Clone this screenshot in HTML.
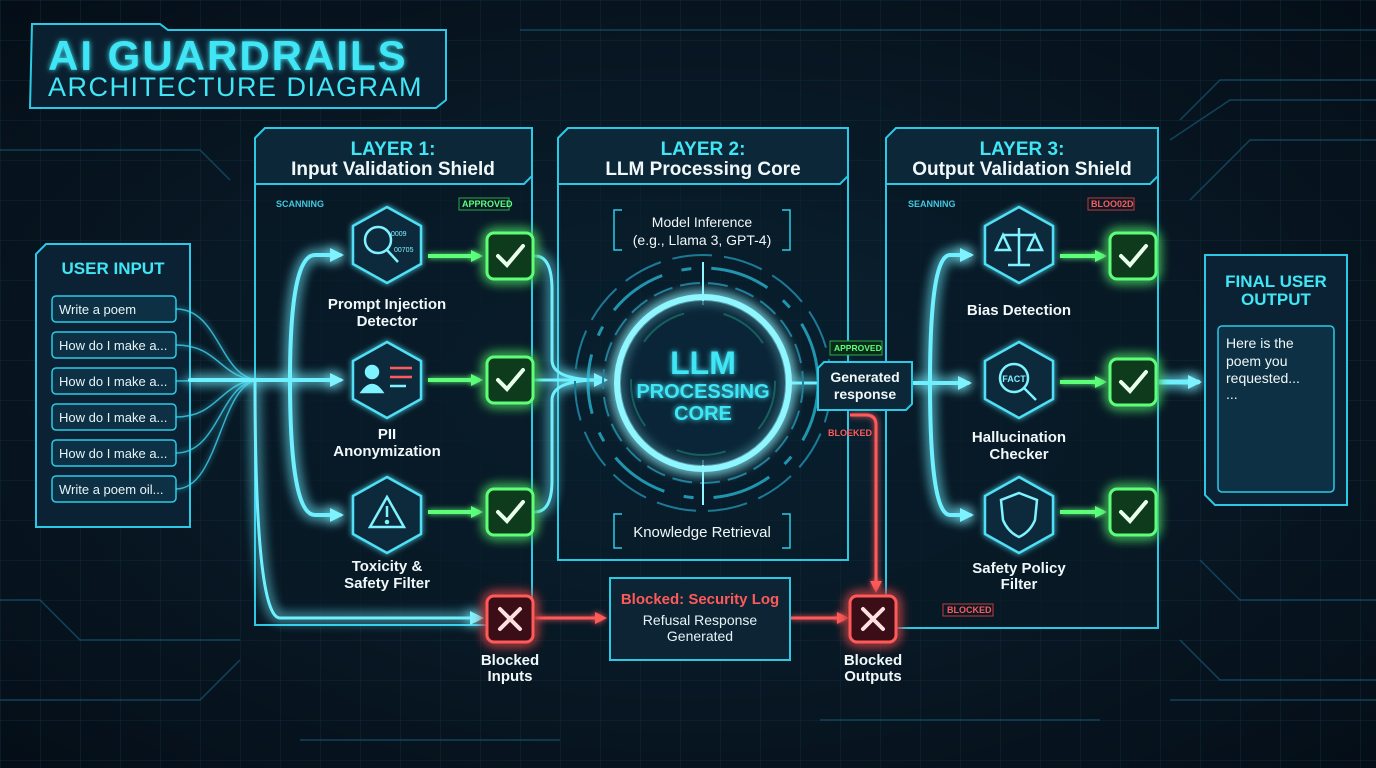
<!DOCTYPE html>
<html><head><meta charset="utf-8"><style>
html,body{margin:0;padding:0;background:#06121c;}
svg{display:block;}
text{font-family:"Liberation Sans","DejaVu Sans",sans-serif;}
</style></head><body>
<svg width="1376" height="768" viewBox="0 0 1376 768" xmlns="http://www.w3.org/2000/svg">
<defs>
<pattern id="grid" width="40" height="40" patternUnits="userSpaceOnUse">
<path d="M40 0H0V40" fill="none" stroke="#0f2a38" stroke-width="1"/>
</pattern>
<radialGradient id="bg" cx="50%" cy="50%" r="70%">
<stop offset="0" stop-color="#0b2333"/><stop offset="1" stop-color="#050e17"/>
</radialGradient>
<filter id="glow" x="-50%" y="-50%" width="200%" height="200%">
<feGaussianBlur stdDeviation="3" result="b"/><feMerge><feMergeNode in="b"/><feMergeNode in="SourceGraphic"/></feMerge>
</filter>
<filter id="glow2" x="-50%" y="-50%" width="200%" height="200%">
<feGaussianBlur stdDeviation="6" result="b"/><feMerge><feMergeNode in="b"/><feMergeNode in="b"/><feMergeNode in="SourceGraphic"/></feMerge>
</filter>
<marker id="ac" markerWidth="16" markerHeight="16" refX="10" refY="8" orient="auto" markerUnits="userSpaceOnUse"><path d="M0 1L14 8L0 15z" fill="#7ff2ff"/></marker>
<marker id="ag" markerWidth="14" markerHeight="14" refX="9" refY="7" orient="auto" markerUnits="userSpaceOnUse"><path d="M0 1L12 7L0 13z" fill="#5dff7a"/></marker>
<marker id="ar" markerWidth="14" markerHeight="14" refX="9" refY="7" orient="auto" markerUnits="userSpaceOnUse"><path d="M0 1L12 7L0 13z" fill="#ff5a5a"/></marker>
</defs>
<rect width="1376" height="768" fill="url(#bg)"/>
<rect width="1376" height="768" fill="url(#grid)"/>
<g stroke="#14506a" stroke-width="1.5" fill="none" opacity="0.8">
<path d="M1180 120L1220 80L1376 80"/><path d="M1170 140L1230 100L1376 100"/><path d="M1190 200L1250 140L1376 140"/>
<path d="M1200 560L1240 600L1376 600"/><path d="M1180 640L1220 680L1376 680"/><path d="M1170 700L1376 700"/>
<path d="M0 600L40 600L80 640L240 640"/><path d="M0 700L200 700L240 660"/><path d="M300 740L560 740"/><path d="M820 720L1100 720"/>
<path d="M520 30L1376 30"/><path d="M0 150L200 150L230 180"/>
</g>
<g>
<path d="M32 24L160 24L168 30L446 30L446 100L436 108L30 108Z" fill="#0a2030" stroke="#2bc9e6" stroke-width="2"/>
<text x="48" y="70" font-size="42" font-weight="bold" fill="#40e6f5" letter-spacing="2" filter="url(#glow)">AI GUARDRAILS</text>
<text x="48" y="96" font-size="27" fill="#40e6f5" letter-spacing="1.5">ARCHITECTURE DIAGRAM</text>
</g>
<g>
<path d="M46 244L190 244L190 527L36 527L36 254Z" fill="#0a2233" stroke="#2bc9e6" stroke-width="2"/>
<text x="113" y="274" font-size="17" font-weight="bold" fill="#40e6f5" text-anchor="middle">USER INPUT</text>
<g fill="#0d3044" stroke="#2bc9e6" stroke-width="1.5">
<rect x="52" y="296" width="124" height="26" rx="4"/><rect x="52" y="332" width="124" height="26" rx="4"/><rect x="52" y="368" width="124" height="26" rx="4"/><rect x="52" y="404" width="124" height="26" rx="4"/><rect x="52" y="440" width="124" height="26" rx="4"/><rect x="52" y="476" width="124" height="26" rx="4"/>
</g>
<g font-size="13" fill="#e6f4f8">
<text x="59" y="314">Write a poem</text><text x="59" y="350">How do I make a...</text><text x="59" y="386">How do I make a...</text><text x="59" y="422">How do I make a...</text><text x="59" y="458">How do I make a...</text><text x="59" y="494">Write a poem oil...</text>
</g>
</g>
<g stroke="#3fd8f5" stroke-width="1.5" fill="none" opacity="0.8" filter="url(#glow)">
<path d="M176 309C220 309 220 380 260 380"/><path d="M176 345C220 345 220 380 260 380"/><path d="M176 381L260 380"/><path d="M176 417C220 417 220 380 260 380"/><path d="M176 453C220 453 220 380 260 380"/><path d="M176 489C220 489 220 380 260 380"/>
</g>
<g fill="#081a27" fill-opacity="0.7" stroke="#2bc9e6" stroke-width="2">
<path d="M265 128L532 128L532 625L255 625L255 138Z"/>
<path d="M568 128L848 128L848 560L558 560L558 138Z" fill-opacity="0.3"/>
<path d="M896 128L1158 128L1158 628L886 628L886 138Z"/>
</g>
<g fill="#0c2738" stroke="#2bc9e6" stroke-width="2">
<path d="M265 128L532 128L532 176L524 184L255 184L255 138Z"/>
<path d="M568 128L848 128L848 176L840 184L558 184L558 138Z"/>
<path d="M896 128L1158 128L1158 176L1150 184L886 184L886 138Z"/>
</g>
<g text-anchor="middle" font-weight="bold">
<text x="393" y="155" font-size="19" fill="#40e6f5">LAYER 1:</text><text x="393" y="175" font-size="19" fill="#f0f8fa">Input Validation Shield</text>
<text x="703" y="155" font-size="19" fill="#40e6f5">LAYER 2:</text><text x="703" y="175" font-size="19" fill="#f0f8fa">LLM Processing Core</text>
<text x="1022" y="155" font-size="19" fill="#40e6f5">LAYER 3:</text><text x="1022" y="175" font-size="19" fill="#f0f8fa">Output Validation Shield</text>
</g>
<g font-size="9" font-weight="bold">
<text x="276" y="207" fill="#40c8e0">SCANNING</text>
<rect x="459" y="198" width="50" height="12" fill="none" stroke="#2ea84a"/><text x="462" y="207" fill="#5dff7a">APPROVED</text>
<text x="908" y="207" fill="#40c8e0">SEANNING</text>
<rect x="1088" y="198" width="46" height="12" fill="none" stroke="#c03a3a"/><text x="1091" y="207" fill="#ff5a5a">BLOO02D</text>
<rect x="943" y="604" width="50" height="12" fill="none" stroke="#c03a3a"/><text x="947" y="613" fill="#ff5a5a">BLOCKED</text>
</g>
<g stroke="#6ff0ff" stroke-width="4" fill="none" filter="url(#glow2)" stroke-linecap="round">
<path d="M190 380L340 380" marker-end="url(#ac)"/>
<path d="M270 380L290 380Q290 255 315 255L340 255" marker-end="url(#ac)"/>
<path d="M270 380L290 380Q290 515 315 515L340 515" marker-end="url(#ac)"/>
<path d="M255 380Q255 618 280 618L480 618" marker-end="url(#ac)" stroke-width="3"/>
<path d="M535 256Q552 256 552 290L552 360Q552 380 600 380" stroke-width="3"/>
<path d="M535 380L604 380" stroke-width="3" marker-end="url(#ac)"/>
<path d="M535 512Q552 512 552 480L552 400Q552 380 600 380" stroke-width="3"/>
<path d="M790 383L818 383" stroke-width="3"/>
<path d="M912 383L968 383" marker-end="url(#ac)"/>
<path d="M912 383L930 383Q930 255 950 255L970 255" marker-end="url(#ac)"/>
<path d="M912 383L930 383Q930 515 950 515L970 515" marker-end="url(#ac)"/>
<path d="M1158 382L1198 382" marker-end="url(#ac)" stroke-width="5"/>
</g>
<g stroke="#5dff7a" stroke-width="4" fill="none" filter="url(#glow)">
<path d="M428 256L480 256" marker-end="url(#ag)"/><path d="M428 380L480 380" marker-end="url(#ag)"/><path d="M428 512L480 512" marker-end="url(#ag)"/>
<path d="M1060 256L1104 256" marker-end="url(#ag)"/><path d="M1060 382L1104 382" marker-end="url(#ag)"/><path d="M1060 512L1104 512" marker-end="url(#ag)"/>
</g>
<g stroke="#ff5a5a" stroke-width="3" fill="none" filter="url(#glow)">
<path d="M535 618L604 618" marker-end="url(#ar)"/>
<path d="M790 618L846 618" marker-end="url(#ar)"/>
<path d="M850 415L866 415Q876 415 876 425L876 590" marker-end="url(#ar)"/>
</g>
<text x="828" y="436" font-size="9" font-weight="bold" fill="#ff5a5a">BLOEKED</text>
<g fill="#0b2a3c" stroke="#4fe0f5" stroke-width="2.5" filter="url(#glow)">
<polygon points="387,207 421,226 421,264 387,283 353,264 353,226"/>
<polygon points="387,342 421,361 421,399 387,418 353,399 353,361"/>
<polygon points="387,477 421,496 421,534 387,553 353,534 353,496"/>
<polygon points="1019,207 1053,226 1053,264 1019,283 985,264 985,226"/>
<polygon points="1019,342 1053,361 1053,399 1019,418 985,399 985,361"/>
<polygon points="1019,477 1053,496 1053,534 1019,553 985,534 985,496"/>
</g>
<g stroke="#7ff2ff" stroke-width="2.5" fill="none">
<circle cx="378" cy="240" r="13"/><path d="M387 250L398 262"/>
<text x="391" y="236" font-size="7" fill="#7ff2ff" stroke="none">0009</text><text x="394" y="252" font-size="7" fill="#7ff2ff" stroke="none">00705</text>
<circle cx="372" cy="372" r="6" fill="#7ff2ff"/><path d="M362 392Q372 378 382 392Z" fill="#7ff2ff"/>
<path d="M390 368L412 368M390 377L412 377" stroke="#ff5a5a"/><path d="M390 386L406 386"/>
<path d="M387 497L404 527L370 527Z"/><path d="M387 506L387 517"/><circle cx="387" cy="522" r="1" fill="#7ff2ff"/>
<path d="M1019 228L1019 265M1003 235L1035 235M1008 265L1030 265M1003 235L996 250L1010 250ZM1035 235L1028 250L1042 250Z"/>
<circle cx="1014" cy="378" r="14"/><path d="M1024 388L1036 400"/>
<path d="M1019 493L1037 500L1035 520Q1030 532 1019 537Q1008 532 1003 520L1001 500Z"/>
</g>
<text x="1014" y="382" font-size="9" font-weight="bold" fill="#7ff2ff" text-anchor="middle">FACT</text>
<g font-size="15" font-weight="bold" fill="#f0f8fa" text-anchor="middle">
<text x="387" y="309">Prompt Injection</text><text x="387" y="326">Detector</text>
<text x="387" y="439">PII</text><text x="387" y="456">Anonymization</text>
<text x="387" y="571">Toxicity &amp;</text><text x="387" y="588">Safety Filter</text>
<text x="1019" y="315">Bias Detection</text>
<text x="1019" y="442">Hallucination</text><text x="1019" y="459">Checker</text>
<text x="1019" y="573">Safety Policy</text><text x="1019" y="589">Filter</text>
<text x="510" y="665">Blocked</text><text x="510" y="681">Inputs</text>
<text x="873" y="665">Blocked</text><text x="873" y="681">Outputs</text>
</g>
<g filter="url(#glow2)">
<g fill="#0d3a1e" stroke="#5dff7a" stroke-width="3">
<rect x="487" y="233" width="46" height="46" rx="7"/><rect x="487" y="357" width="46" height="46" rx="7"/><rect x="487" y="489" width="46" height="46" rx="7"/>
<rect x="1110" y="233" width="46" height="46" rx="7"/><rect x="1110" y="359" width="46" height="46" rx="7"/><rect x="1110" y="489" width="46" height="46" rx="7"/>
</g>
<g fill="#3a0f14" stroke="#ff5a5a" stroke-width="3">
<rect x="487" y="596" width="46" height="46" rx="7"/><rect x="850" y="596" width="46" height="46" rx="7"/>
</g>
</g>
<g stroke="#e9ffe9" stroke-width="4" fill="none" stroke-linecap="round">
<path d="M498 256L507 265L523 246"/><path d="M498 380L507 389L523 370"/><path d="M498 512L507 521L523 502"/>
<path d="M1121 256L1130 265L1146 246"/><path d="M1121 382L1130 391L1146 372"/><path d="M1121 512L1130 521L1146 502"/>
</g>
<g stroke="#ffe0e0" stroke-width="4" stroke-linecap="round">
<path d="M500 609L520 629M520 609L500 629"/><path d="M863 609L883 629M883 609L863 629"/>
</g>
<rect x="610" y="578" width="180" height="82" fill="#0c2433" stroke="#2bc9e6" stroke-width="2"/>
<text x="700" y="604" font-size="15" font-weight="bold" fill="#ff5a5a" text-anchor="middle">Blocked: Security Log</text>
<text x="700" y="625" font-size="14" fill="#e6f4f8" text-anchor="middle">Refusal Response</text>
<text x="700" y="641" font-size="14" fill="#e6f4f8" text-anchor="middle">Generated</text>
<g stroke="#2bc9e6" stroke-width="1.5" fill="none">
<path d="M622 210L614 210L614 250L622 250M782 210L790 210L790 250L782 250"/>
<path d="M622 514L614 514L614 548L622 548M782 514L790 514L790 548L782 548"/>
</g>
<text x="702" y="227" font-size="14" fill="#f0f8fa" text-anchor="middle">Model Inference</text>
<text x="702" y="245" font-size="14" fill="#f0f8fa" text-anchor="middle">(e.g., Llama 3, GPT-4)</text>
<text x="702" y="537" font-size="15" fill="#f0f8fa" text-anchor="middle">Knowledge Retrieval</text>
<g fill="none">
<circle cx="703" cy="383" r="128" stroke="#1d7a96" stroke-width="2" stroke-dasharray="40 12"/>
<circle cx="703" cy="383" r="115" stroke="#2bc9e6" stroke-width="3" stroke-dasharray="60 20 10 20" opacity="0.7"/>
<circle cx="703" cy="383" r="100" stroke="#1d7a96" stroke-width="2" stroke-dasharray="20 8"/>
<circle cx="703" cy="383" r="86" stroke="#8ff6ff" stroke-width="6" filter="url(#glow2)"/>
<circle cx="703" cy="383" r="72" stroke="#2fd0a0" stroke-width="2" stroke-dasharray="50 40" opacity="0.8"/>
<path d="M703 262L703 305M703 460L703 505" stroke="#8ff6ff" stroke-width="2"/>
</g>
<circle cx="703" cy="383" r="82" fill="#0a2a3d" opacity="0.6"/>
<g font-weight="bold" fill="#40e6f5" text-anchor="middle" filter="url(#glow)">
<text x="703" y="374" font-size="32">LLM</text>
<text x="703" y="398" font-size="20">PROCESSING</text>
<text x="703" y="420" font-size="20">CORE</text>
</g>
<rect x="830" y="341" width="52" height="14" fill="#0a2a1a" stroke="#2ea84a"/>
<text x="834" y="351" font-size="8.5" font-weight="bold" fill="#5dff7a">APPROVED</text>
<path d="M824 362L912 362L912 404L906 410L818 410L818 368Z" fill="#0c2738" stroke="#2bc9e6" stroke-width="2"/>
<text x="865" y="382" font-size="14" font-weight="bold" fill="#f0f8fa" text-anchor="middle">Generated</text>
<text x="865" y="399" font-size="14" font-weight="bold" fill="#f0f8fa" text-anchor="middle">response</text>
<path d="M1205 255L1347 255L1347 505L1215 505L1205 495Z" fill="#0a2233" stroke="#2bc9e6" stroke-width="2"/>
<text x="1276" y="287" font-size="17" font-weight="bold" fill="#40e6f5" text-anchor="middle">FINAL USER</text>
<text x="1276" y="305" font-size="17" font-weight="bold" fill="#40e6f5" text-anchor="middle">OUTPUT</text>
<rect x="1218" y="326" width="116" height="166" rx="4" fill="#0e3044" stroke="#2bc9e6" stroke-width="1.5"/>
<g font-size="14" fill="#f0f8fa">
<text x="1226" y="348">Here is the</text><text x="1226" y="366">poem you</text><text x="1226" y="383">requested...</text><text x="1226" y="399">...</text>
</g>
</svg>
</body></html>
